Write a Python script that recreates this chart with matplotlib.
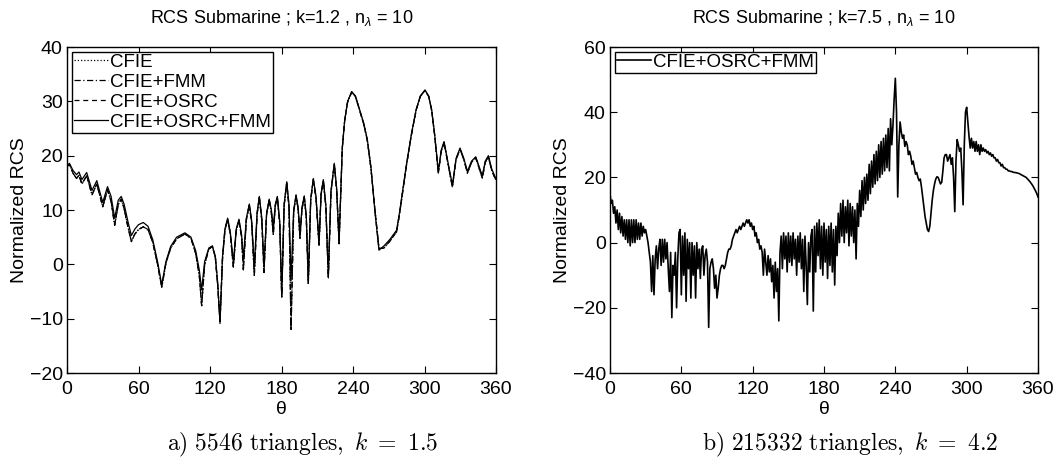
import numpy as np
import matplotlib
matplotlib.use("Agg")
import matplotlib.pyplot as plt

plt.rcParams['font.family'] = ['Liberation Sans', 'DejaVu Sans']
plt.rcParams['mathtext.fontset'] = 'custom'
plt.rcParams['mathtext.rm'] = 'Liberation Sans'
plt.rcParams['mathtext.it'] = 'Liberation Sans:italic'

# ---------------- data: panel a ----------------
theta_a = [0, 2, 5, 8, 10, 12.5, 16.5, 21, 25, 30, 34, 37, 40, 43, 45.5, 48, 51, 54, 57, 60,
           64, 68, 72, 76, 79.5, 83, 87, 92, 99, 104, 108, 111, 113, 115.5, 119, 122, 124.5,
           126.5, 128.4, 130.5, 132.5, 134.8, 137, 139.6, 142, 144.3, 146.5, 148, 150.5, 153,
           155, 157.2, 159.5, 161.4, 163.5, 165.3, 167.5, 169.7, 171.5, 173.1, 174.8, 176.5,
           178.5, 180.2, 182.2, 184.4, 186.3, 188, 190.2, 192.2, 194, 195.5, 197.2, 199.1,
           200.8, 202.5, 204.5, 206.7, 209, 211.5, 213.2, 215.1, 217.2, 219.3, 221.5, 224.3,
           226.3, 228.3, 229.5, 231, 233, 235.5, 238.9, 242, 245.5, 249, 252, 255, 258.5,
           261.8, 266, 271, 276.6, 279, 282, 285, 289, 293, 296.5, 300.4, 303.5, 306, 308.5,
           311.6, 314, 316.4, 319.5, 323.4, 326.5, 329.8, 333, 336, 339.5, 343, 345.8, 348.5,
           351, 353.6, 356.5, 360]

rcs_osrc_fmm = [18.0, 18.6, 17.3, 16.5, 17.0, 15.6, 16.9, 13.6, 15.4, 11.4, 14.3, 12.5, 8.5, 11.8,
                12.5, 11.0, 8.0, 5.3, 6.5, 7.3, 7.7, 7.0, 4.5, 0.5, -3.8, 0.5, 3.3, 5.0, 5.8, 5.0,
                2.5, -1.0, -4.7, 0.5, 3.0, 3.4, 1.5, -3.5, -10.9, 1.5, 6.5, 8.5, 6.0, 0.5, 6.5,
                8.3, 5.5, 1.1, 8.5, 11.1, 8.0, -0.4, 9.5, 12.5, 8.5, -0.4, 9.5, 12.0, 10.0, 6.9,
                11.0, 12.5, 8.0, -5.6, 11.0, 15.2, 11.0, -3.0, 10.0, 12.8, 10.5, 5.5, 10.5, 12.6,
                9.0, -3.2, 12.0, 15.8, 12.5, 3.9, 13.0, 15.6, 11.0, -2.0, 13.5, 18.6, 14.0, 4.2,
                12.0, 21.5, 26.5, 30.0, 31.8, 31.0, 28.5, 26.0, 23.0, 18.0, 9.5, 2.6, 3.4, 4.6,
                6.3, 9.5, 14.0, 18.6, 24.0, 28.5, 31.0, 32.1, 31.0, 28.5, 24.0, 17.1, 21.0, 22.6,
                19.0, 14.6, 19.5, 21.4, 19.5, 17.1, 19.0, 19.8, 18.0, 16.3, 19.0, 20.0, 17.5, 15.7]

rcs_cfie = [18.0, 18.4, 16.8, 15.8, 16.4, 14.8, 16.3, 12.8, 14.8, 10.6, 13.7, 11.6, 7.2, 11.0,
            12.0, 10.2, 7.0, 4.2, 5.6, 6.4, 6.9, 6.4, 4.0, 0.0, -4.2, 0.2, 3.0, 4.7, 5.6, 4.8,
            2.0, -2.0, -7.6, 0.0, 2.8, 3.3, 1.2, -4.0, -10.5, 1.0, 6.2, 8.3, 5.6, -0.5, 6.2,
            8.1, 5.0, -1.0, 8.2, 10.9, 7.5, -2.0, 9.2, 12.3, 8.0, -1.5, 9.2, 11.8, 9.5, 5.5,
            10.8, 12.3, 7.5, -6.0, 10.8, 15.0, 10.5, -12.0, 9.6, 12.6, 10.0, 4.8, 10.2, 12.4,
            8.6, -3.5, 11.8, 15.6, 12.0, 3.5, 12.8, 15.4, 10.6, -2.5, 13.2, 18.4, 13.6, 3.8,
            11.6, 21.3, 26.4, 29.9, 31.7, 30.9, 28.4, 25.8, 22.8, 17.8, 9.8, 2.9, 3.0, 4.3,
            6.0, 9.2, 13.8, 18.4, 23.8, 28.4, 30.9, 32.0, 30.9, 28.3, 23.8, 16.8, 20.8, 22.4,
            18.8, 14.2, 19.3, 21.2, 19.3, 16.8, 18.8, 19.6, 17.7, 15.9, 18.8, 19.8, 17.2, 15.5]

rcs_cfie_fmm = rcs_cfie
rcs_cfie_osrc = rcs_cfie

# ---------------- data: panel b ----------------
theta_b = list(range(0, 361))
rcs_b = [
    15, 12, 13, 9, 11, 6, 10, 4, 9, 3,
    8, 2, 7, 1, 7, 0, 7, -1, 7, 0,
    7, 0, 7, 1, 6, 1, 6, 2, 5, 3,
    4, 2, 0, -3, -6, -15, -4, -16, -5, -1,
    -8, -2, 1, -7, 1, -6, 1, -5, 0, -8,
    -15, -3, -23, -7, -10, -3, -20, -5, 3, 4,
    -16, 2, -10, 3, -18, 1, -8, 0, -17, 0,
    -10, -1, -17, 0, -8, -2, -11, -2, -1, -10,
    -4, -2, -6, -26, -8, -6, -5, -8, -14, -10,
    -17, -14, -10, -8, -7, -7, -8, -7, -5, -3,
    -2, -2, -1, 1, 2, 3, 4, 3, 4, 5,
    4, 5, 6, 5, 6, 7, 6, 7, 5, 6,
    4, 5, 2, 3, 0, 1, -2, -1, -3, -10,
    -2, -6, -10, -4, -9, -5, -12, -7, -17, -6,
    -15, -8, -24, -3, 2, -8, 3, -5, 2, -9,
    3, -6, 2, -7, 3, -5, 1, -10, 2, -6,
    3, -8, 1, -15, 2, -7, -19, 0, -9, 2,
    4, -21, 5, -9, 6, -4, 7, -8, 5, -10,
    6, -6, 4, -11, 5, -7, 6, -9, 4, -13,
    5, -4, 9, 0, 12, 2, 13, 0, 11, 3,
    13, -1, 12, 2, 11, 0, 10, -5, 12, 5,
    16, 8, 19, 10, 20, 12, 21, 13, 24, 15,
    25, 17, 27, 18, 28, 19, 30, 20, 31, 21,
    32, 22, 33, 23, 35, 22, 38, 30, 36, 44,
    50.4, 40, 14, 30, 37, 34, 32, 33, 29.5, 31,
    30, 27, 28, 26.5, 24, 25, 23, 21, 21.5, 20,
    19, 19.5, 17, 14, 11, 8, 6, 4, 3.4, 5,
    9, 13, 16, 18, 19.5, 20.2, 20, 19, 18, 18.5,
    22, 26, 27, 27, 25, 26, 27, 24, 26, 20,
    9.5, 25, 31.6, 30, 28, 29, 22, 11.6, 30, 40,
    41.5, 37, 32.5, 29, 32, 29, 31, 28, 31, 28,
    30, 27, 30, 28, 29, 28, 28.5, 27.5, 28, 27,
    27.5, 26.5, 27, 26, 26, 25, 25.5, 24.5, 24.5, 23.5,
    24, 23, 23, 22.5, 22.5, 22, 22, 21.8, 21.8, 21.6,
    21.5, 21.5, 21.4, 21.3, 21.2, 21, 20.8, 20.6, 20.4, 20.2,
    20, 19.6, 19.2, 18.8, 18.3, 17.8, 17.2, 16.5, 15.8, 15,
    14]

xticks = [0, 60, 120, 180, 240, 300, 360]
title_a = r'RCS Submarine ; k=1.2 , n$_\lambda$ = 10'
title_b = r'RCS Submarine ; k=7.5 , n$_\lambda$ = 10'
caption_a = r'$\mathrm{a)\ 5546\ triangles,}\ k\ =\ 1.5$'
caption_b = r'$\mathrm{b)\ 215332\ triangles,}\ k\ =\ 4.2$'

# ---------------- figure ----------------
fig = plt.figure(figsize=(10.6, 4.69), dpi=100)
ax1 = fig.add_axes([67/1060, 1-373/469, 429/1060, 326/469])
ax2 = fig.add_axes([610/1060, 1-373/469, 428/1060, 326/469])

lw = 0.9
ax1.plot(theta_a, rcs_cfie, color='k', lw=lw, ls=(0, (1, 1.6)), label='CFIE')
ax1.plot(theta_a, rcs_cfie_fmm, color='k', lw=lw, ls=(0, (5, 2, 1, 2)), label='CFIE+FMM')
ax1.plot(theta_a, rcs_cfie_osrc, color='k', lw=lw, ls=(0, (4, 3)), label='CFIE+OSRC')
ax1.plot(theta_a, rcs_osrc_fmm, color='k', lw=lw, ls='-', label='CFIE+OSRC+FMM')
ax1.set_ylim(-20, 40)
ax1.set_yticks(range(-20, 41, 10))

ax2.plot(theta_b, rcs_b, color='k', lw=1.2, label='CFIE+OSRC+FMM')
ax2.set_ylim(-40, 60)
ax2.set_yticks(range(-40, 61, 20))

for ax, t in [(ax1, title_a), (ax2, title_b)]:
    ax.set_xlim(0, 360)
    ax.set_xticks(xticks)
    ax.tick_params(direction='in', top=True, right=True, length=5, width=0.8,
                   labelsize=14)
    ax.tick_params(axis='x', pad=6)
    ax.tick_params(axis='y', pad=3)
    for s in ax.spines.values():
        s.set_linewidth(1.0)
    ax.set_title(t, fontsize=13, pad=17)
    ax.set_xlabel('θ', fontsize=14, labelpad=2)
    ax.set_ylabel('Normalized RCS', fontsize=14, labelpad=1)
    leg = ax.legend(loc='upper left', fontsize=13.5, frameon=True, fancybox=False,
                    edgecolor='k', framealpha=1, borderpad=0.12, labelspacing=0.15,
                    handlelength=1.8, handletextpad=0.1, borderaxespad=0.25)
    leg.get_frame().set_linewidth(1.0)

fig.text(303/1060, 1-445/469, caption_a, fontsize=17, ha='center', va='center',
         math_fontfamily='cm')
fig.text(850/1060, 1-445/469, caption_b, fontsize=17, ha='center', va='center',
         math_fontfamily='cm')

fig.savefig('out.png', dpi=100)
